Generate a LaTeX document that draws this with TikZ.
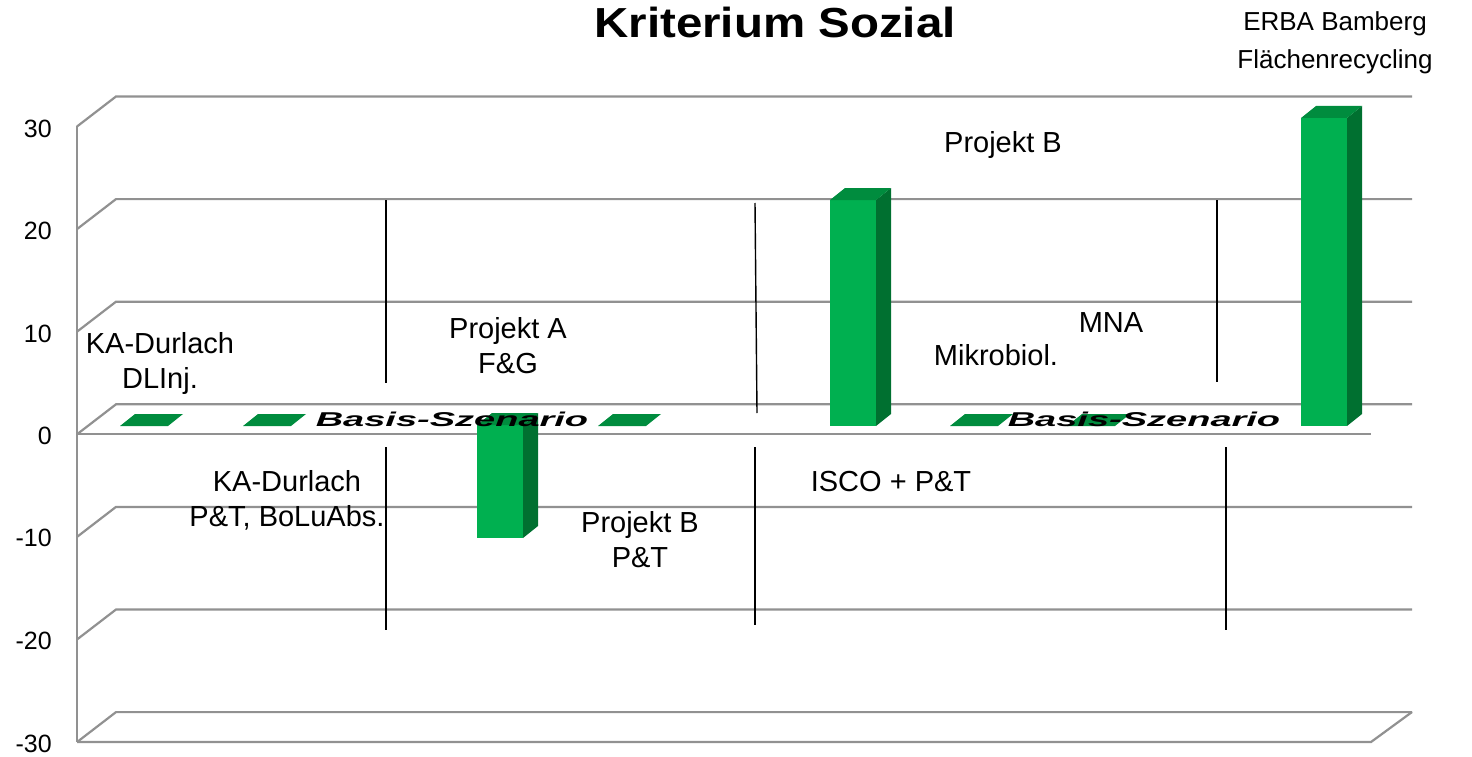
\documentclass[tikz,border=0pt]{standalone}
\usepackage{fontspec}
\setmainfont{Liberation Sans}
\definecolor{gridgray}{RGB}{145,145,145}
\definecolor{barfront}{RGB}{0,176,80}
\definecolor{barside}{RGB}{0,112,48}
\definecolor{bartop}{RGB}{0,140,62}
% a 3D column: left x of the front face, top y, bottom y
\newcommand\drawcolumn[3]{%
  \fill[barfront] (#1,#2) rectangle ({#1+46},#3);
  \fill[barside] ({#1+46},#2) -- ({#1+61},{#2-12}) -- ({#1+61},{#3-12}) -- ({#1+46},#3) -- cycle;
  \fill[bartop] (#1,#2) -- ({#1+46},#2) -- ({#1+61},{#2-12}) -- ({#1+15},{#2-12}) -- cycle;
}
% a zero-height column lying on the floor plane
\newcommand\drawflat[1]{%
  \fill[bartop] (#1,426) -- ({#1+48},426) -- ({#1+63},414) -- ({#1+15},414) -- cycle;
}
\begin{document}
\begin{tikzpicture}[x=1pt,y=-1pt,
  grid/.style={draw=gridgray,line width=2.2pt},
  sepline/.style={draw=black,line width=1.4pt},
  lbl/.style={font=\fontsize{29}{33}\selectfont,inner sep=0pt,anchor=base},
  ticklbl/.style={font=\fontsize{25}{28}\selectfont,inner sep=0pt,anchor=base east},
  basis/.style={font=\fontsize{20}{22}\selectfont\bfseries\itshape,inner sep=0pt,anchor=base,xscale=1.9},
  titlelbl/.style={font=\fontsize{42}{46}\selectfont\bfseries,inner sep=0pt,anchor=base,xscale=1.13},
  erbalbl/.style={font=\fontsize{26}{30}\selectfont,inner sep=0pt,anchor=base}]
\useasboundingbox (0,0) rectangle (1472,757);

% gridlines: left wall diagonal plus back wall line for each level
\foreach \v in {30,20,10,0,-10,-20,-30} {
  \pgfmathsetmacro\fy{434.3-10.26*\v}
  \draw[grid] (77,\fy) -- (116,{\fy-30}) -- (1412,{\fy-30});
}
% vertical axis, zero line and floor edge
\draw[grid] (77,126.5) -- (77,742);
\draw[grid] (77,434.3) -- (1371,434.3);
\draw[grid] (77,742) -- (1371,742) -- (1412,712);

% tick labels
\node[ticklbl] (t30) at (52,138) {30};
\node[ticklbl] (t20) at (52,239) {20};
\node[ticklbl] (t10) at (52,342) {10};
\node[ticklbl] (t0) at (52,444) {0};
\node[ticklbl] (tm10) at (52,546) {-10};
\node[ticklbl] (tm20) at (52,649) {-20};
\node[ticklbl] (tm30) at (52,752) {-30};

% columns
\drawflat{120}
\drawflat{243}
\drawcolumn{477}{425}{538}
\drawflat{598}
\drawcolumn{830}{200}{426}
\drawflat{950}
\drawflat{1067}
\drawcolumn{1301}{118}{426}

% baseline scenario labels
\node[basis] (basisA) at (452,426) {Basis-Szenario};
\node[basis] (basisB) at (1144,426) {Basis-Szenario};

% group separators
\draw[sepline] (386,200) -- (386,383);
\draw[sepline] (386,447) -- (386,630);
\draw[sepline] (755,203) -- (757,413);
\draw[sepline] (755,447) -- (755,625);
\draw[sepline] (1217,200) -- (1217,382);
\draw[sepline] (1226,447) -- (1226,630);

% title
\node[titlelbl] (title) at (775,38) {Kriterium Sozial};
\node[erbalbl] (erba1) at (1335,31) {ERBA Bamberg};
\node[erbalbl] (erba2) at (1335,69) {Flächenrecycling};

% category labels
\node[lbl] (kad1) at (160,353) {KA-Durlach};
\node[lbl] (kad2) at (160,388) {DLInj.};
\node[lbl] (pa1) at (508,338) {Projekt A};
\node[lbl] (pa2) at (508,373) {F\&G};
\node[lbl] (pbt) at (1003,153) {Projekt B};
\node[lbl] (mna) at (1111,332) {MNA};
\node[lbl] (mik) at (996,365) {Mikrobiol.};
\node[lbl] (kap1) at (287,491) {KA-Durlach};
\node[lbl] (kap2) at (287,526) {P\&T, BoLuAbs.};
\node[lbl] (pb1) at (640,532) {Projekt B};
\node[lbl] (pb2) at (640,567) {P\&T};
\node[lbl] (isco) at (891,491) {ISCO + P\&T};
\end{tikzpicture}
\end{document}
